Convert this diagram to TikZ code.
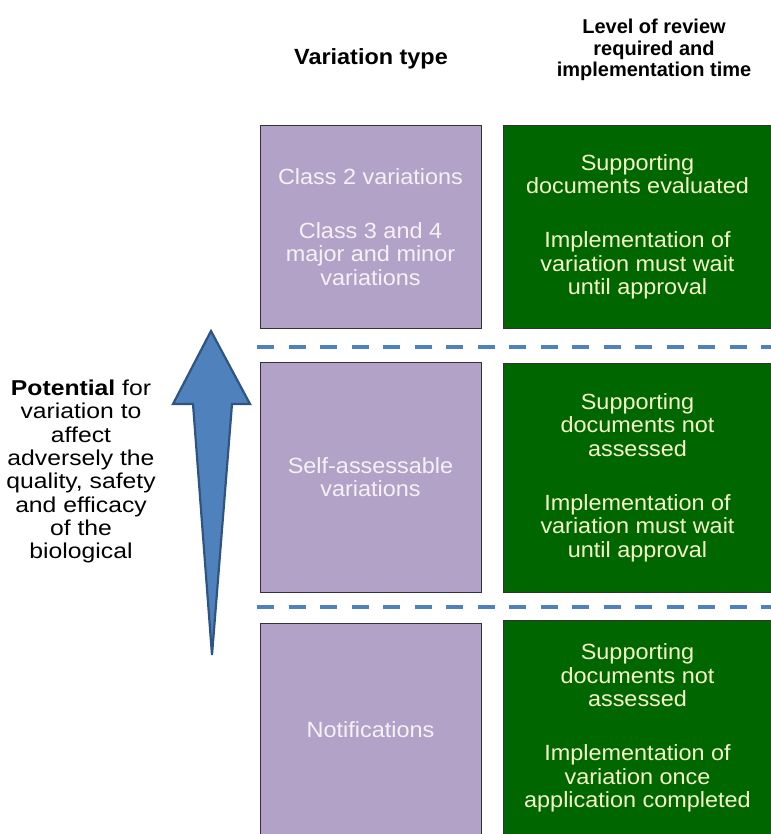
\documentclass[tikz,border=0pt]{standalone}
\usepackage{fontspec}
\setmainfont{Liberation Sans}
\newfontfamily\widesans[FakeStretch=1.15]{Liberation Sans}
\newfontfamily\boxsans[FakeStretch=1.065]{Liberation Sans}
\definecolor{purp}{HTML}{B3A2C7}
\definecolor{dgreen}{HTML}{006600}
\definecolor{gtext}{HTML}{F5F8C8}
\definecolor{ptext}{HTML}{F4F2F8}
\definecolor{dashblue}{HTML}{4F81BD}
\definecolor{arrowfill}{HTML}{4F81BD}
\definecolor{arrowline}{HTML}{2F5482}
\definecolor{boxline}{HTML}{333333}
\begin{document}
\begin{tikzpicture}[x=1pt,y=-1pt,
  cell/.style={draw=boxline, line width=1pt, align=center, inner sep=0pt,
    font=\boxsans\fontsize{22}{23.5}\selectfont},
  vtype/.style={cell, fill=purp, text=ptext, minimum width=221pt},
  review/.style={cell, fill=dgreen, text=gtext, minimum width=269pt},
  header/.style={align=center, inner sep=0pt},
  sepline/.style={draw=dashblue, line width=4.5pt, dash pattern=on 17pt off 14.5pt},
  bigarrow/.style={fill=arrowfill, draw=arrowline, line width=2.2pt, line join=miter}]
\useasboundingbox (0,0) rectangle (770,834);
% headers
\node[header, font=\boxsans\fontsize{22}{23}\selectfont\bfseries] (h1) at (371,59) {Variation type};
\node[header, font=\fontsize{20}{21.5}\selectfont\bfseries] (h2) at (654,50) {Level of review\\required and\\implementation time};
% row 1
\node[vtype, minimum height=202pt] (p1) at (370.5,227) {Class 2 variations\\[30.5pt]Class 3 and 4\\major and minor\\variations};
\node[review, minimum height=202pt] (g1) at (637.5,227) {Supporting\\documents evaluated\\[30.5pt]Implementation of\\variation must wait\\until approval};
% row 2
\node[vtype, minimum height=230pt] (p2) at (370.5,477) {Self-assessable\\variations};
\node[review, minimum height=229pt] (g2) at (637.5,477.5) {Supporting\\documents not\\assessed\\[30.5pt]Implementation of\\variation must wait\\until approval};
% row 3
\node[vtype, minimum height=213pt] (p3) at (370.5,729.5) {Notifications};
\node[review, minimum height=216pt] (g3) at (637.5,728) {Supporting\\documents not\\assessed\\[30.5pt]Implementation of\\variation once\\application completed};
% separators
\coordinate (s1a) at (257,347); \coordinate (s1b) at (775,347);
\coordinate (s2a) at (257,607); \coordinate (s2b) at (775,607);
\draw[sepline] (s1a) -- (s1b);
\draw[sepline] (s2a) -- (s2b);
% arrow
\draw[bigarrow] (211,331) -- (250,404) -- (232,404) -- (212,655) -- (193,404) -- (173,404) -- cycle;
% left text
\node[align=center, inner sep=0pt, font=\widesans\fontsize{21.5}{23.3}\selectfont] (lt) at (81,471.5)
  {\textbf{Potential} for\\variation to\\affect\\adversely the\\quality, safety\\and efficacy\\of the\\biological};
\end{tikzpicture}
\end{document}
